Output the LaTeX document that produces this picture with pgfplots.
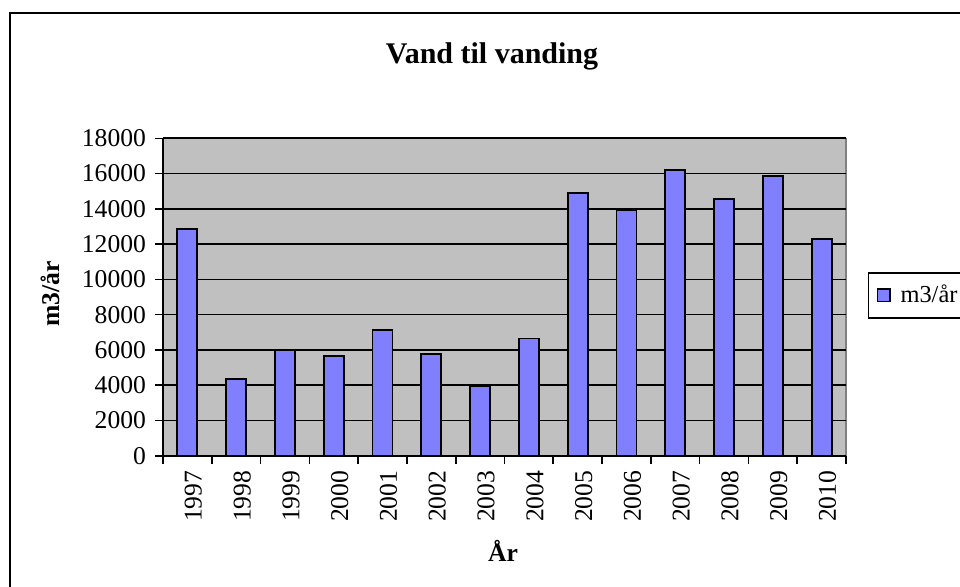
\documentclass[border=0pt]{standalone}
\usepackage{fontspec}
\setmainfont{Liberation Serif}
\usepackage{pgfplots}
\pgfplotsset{compat=1.18}
\definecolor{barblue}{RGB}{128,128,255}
\definecolor{plotgrey}{RGB}{192,192,192}
\definecolor{rimgrey}{RGB}{128,128,128}

\begin{document}
% 1 px of the reference = 0.5pt
\begin{tikzpicture}[x=0.5pt,y=0.5pt]
\useasboundingbox (0,0) rectangle (960,586);
\clip (0,0) rectangle (960,586);
% outer chart frame
\draw[line width=1pt] (10,573) rectangle (1000,-20);

\begin{axis}[
  at={(81.5pt,65.15pt)}, anchor=south west,
  scale only axis,
  width=341.5pt, height=158.7pt,
  ybar, bar width=10pt,
  xmin=-0.5, xmax=13.5,
  ymin=0, ymax=18000,
  ytick={0,2000,...,18000},
  scaled y ticks=false,
  xtick={0,...,13},
  xticklabels={1997,1998,1999,2000,2001,2002,2003,2004,2005,2006,2007,2008,2009,2010},
  minor xtick={-0.5,0.5,...,13.5},
  major x tick style={draw=none},
  tick align=outside,
  major tick length=4pt, minor tick length=4pt,
  tick style={black, line width=0.8pt},
  axis x line*=bottom, axis y line*=left,
  axis line style={black, line width=0.9pt, -},
  axis background/.style={fill=plotgrey, draw=rimgrey, line width=0.6pt},
  ymajorgrids,
  grid style={black, line width=0.85pt},
  /pgf/number format/assume math mode=true,
  /pgf/number format/1000 sep={},
  yticklabel style={font=\fontsize{12.8}{15}\selectfont, xshift=-1pt},
  xticklabel style={font=\fontsize{12.8}{15}\selectfont, rotate=90, anchor=east, yshift=-3pt},
  legend style={at={(1.032,0.505)}, anchor=west, draw=black, line width=0.8pt,
    font=\fontsize{12.2}{15}\selectfont, inner xsep=4pt, inner ysep=5pt,
    legend cell align=left, nodes={inner sep=1pt}},
  legend image code/.code={
    \draw[fill=barblue, draw=black, line width=0.6pt] (0pt,-3.2pt) rectangle (6.4pt,3.2pt);
    \path (10.2pt,0pt);},
]
\addplot[fill=barblue, draw=black, line width=0.9pt] coordinates {
  (0,12860) (1,4350) (2,6000) (3,5650) (4,7110) (5,5780) (6,3970)
  (7,6650) (8,14920) (9,13950) (10,16190) (11,14550) (12,15840) (13,12310)};
\addlegendentry{m3/år}
\end{axis}

\node[anchor=base, font=\fontsize{15}{18}\selectfont\bfseries] at (492,523) {Vand til vanding};
\node[rotate=90, font=\fontsize{12.8}{15}\selectfont\bfseries] at (50,292) {m3/år};
\node[font=\fontsize{12.8}{15}\selectfont\bfseries] at (503,35) {År};
\end{tikzpicture}
\end{document}
